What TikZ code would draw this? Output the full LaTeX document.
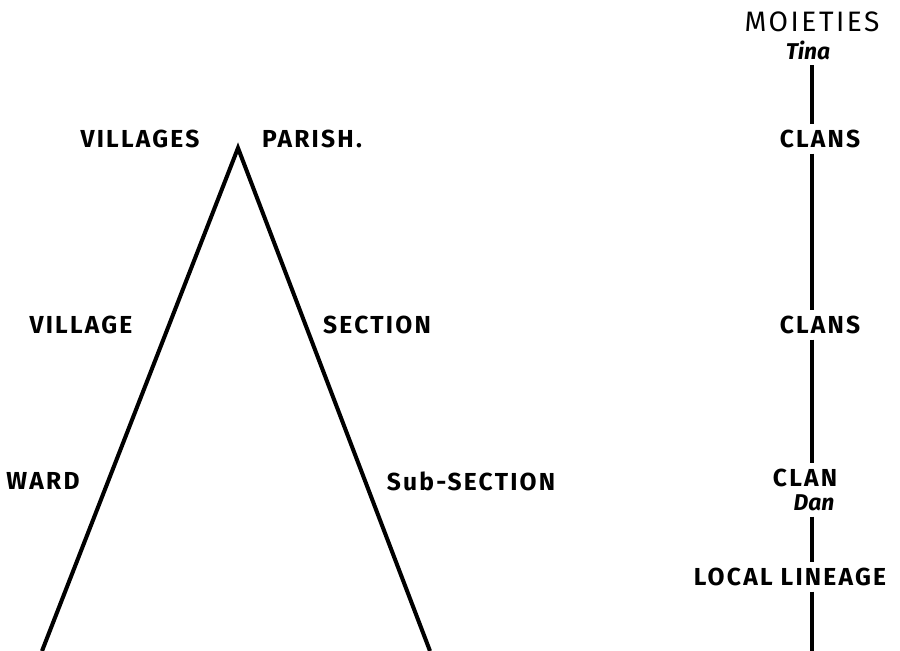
\documentclass[tikz,border=0pt]{standalone}
\usepackage{fontspec}
\setmainfont{Fira Sans}
\newfontfamily\spacedfont[LetterSpace=9]{Fira Sans}
\usetikzlibrary{positioning}

\tikzset{
  lbl/.style={font=\spacedfont\fontsize{14}{16}\selectfont\bfseries, inner sep=3pt},
  sub/.style={font=\fontsize{13}{15}\selectfont\bfseries\itshape, inner sep=3pt},
  rule/.style={line width=2.3pt},
}

\begin{document}
\begin{tikzpicture}[x=0.02cm,y=-0.02cm]
  \useasboundingbox (0,0) rectangle (900,651);
  % territorial segments
  \coordinate (apex) at (238,148);
  \coordinate (basel) at (42,651);
  \coordinate (baser) at (430,651);
  \draw[rule,line join=miter] (basel) -- (apex) -- (baser);
  \node[lbl] (villages) at (140,139) {VILLAGES};
  \node[lbl] (parish) at (312,139) {PARISH.};
  \node[lbl] (village) at (81,325) {VILLAGE};
  \node[lbl] (section) at (377,325) {SECTION};
  \node[lbl] (ward) at (43,481) {WARD};
  \node[lbl] (subsection) at (471,481) {Sub-SECTION};
  % lineage segments
  \coordinate (rail) at (812,0);
  \node[font=\spacedfont\fontsize{16}{18}\selectfont, inner sep=3pt] (moieties) at (812,22) {MOIETIES};
  \node[sub] (tina) at (808,50) {Tina};
  \node[lbl] (clans) at (820,139) {CLANS};
  \node[lbl] (clansb) at (820,325) {CLANS};
  \node[lbl] (clan) at (805,478) {CLAN};
  \node[sub] (dan) at (814,503) {Dan};
  \node[lbl] (lineage) at (790,577) {LOCAL LINEAGE};
  \coordinate (railend) at (812,651);
  \draw[rule] (tina.south -| rail) -- (clans.north -| rail);
  \draw[rule] (clans.south -| rail) -- (clansb.north -| rail);
  \draw[rule] (clansb.south -| rail) -- (clan.north -| rail);
  \draw[rule] (dan.south -| rail) -- (lineage.north -| rail);
  \draw[rule] (lineage.south -| rail) -- (railend);
\end{tikzpicture}
\end{document}
